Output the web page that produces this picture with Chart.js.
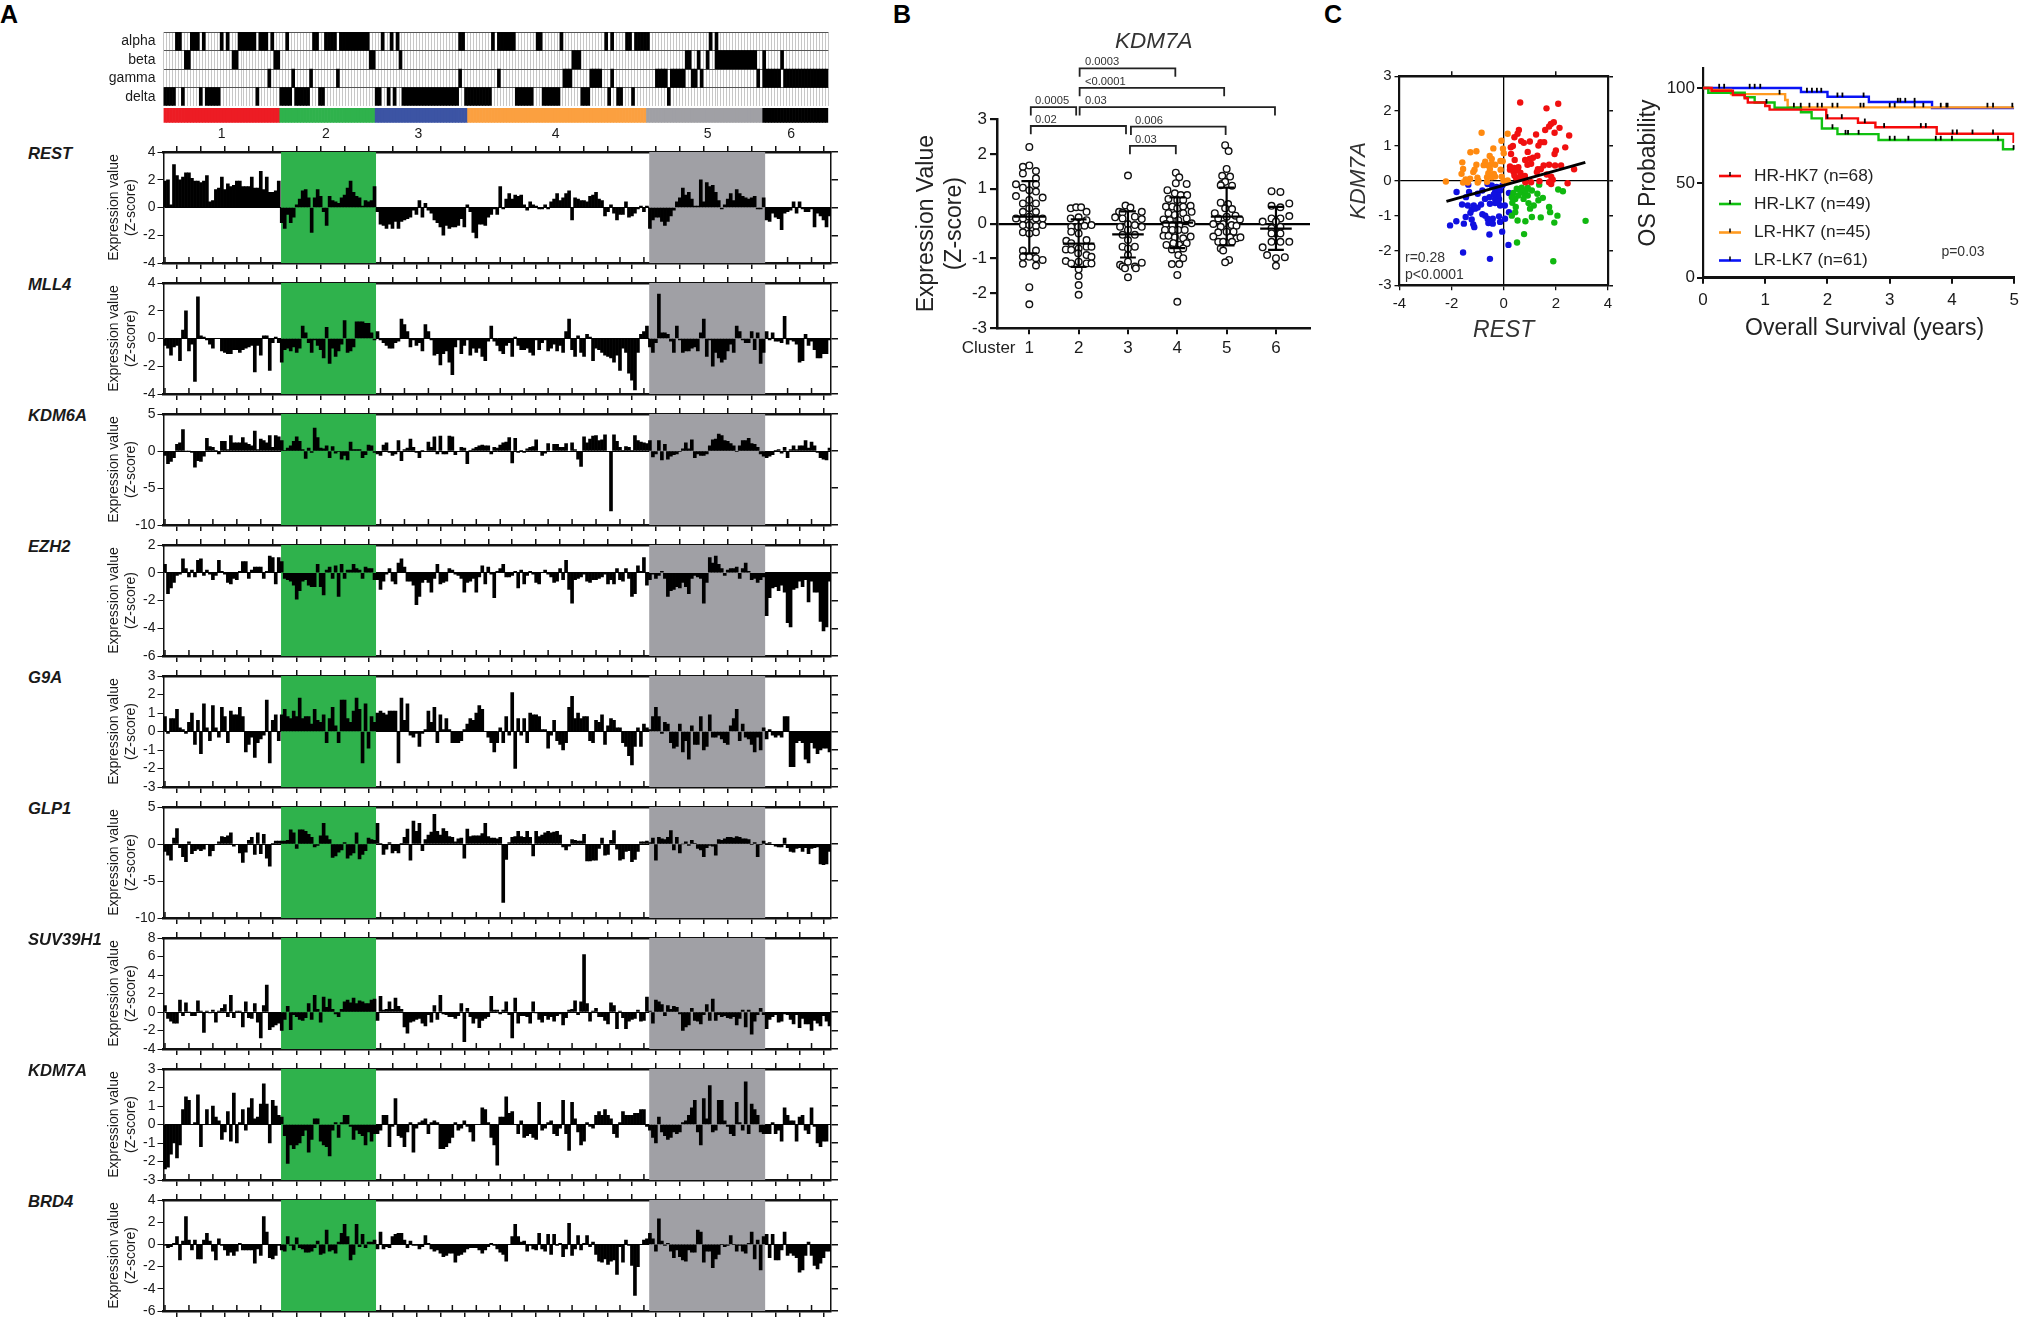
<!DOCTYPE html>
<html>
<head>
<meta charset="utf-8">
<title>Expression panels</title>
<style>
  html, body { margin: 0; background: #fff; }
  body { position: relative; width: 2020px; height: 1317px; overflow: hidden; font-family: "Liberation Sans", Arial, sans-serif; color: #1a1a1a; }
  canvas { position: absolute; }
  .note { position: absolute; white-space: nowrap; transform: translateY(-50%); line-height: 1; }
</style>
<script src="https://cdn.jsdelivr.net/npm/chart.js@4"></script>
</head>
<body>
<script>
// samples per cluster, in plotting order
const clusterNames = ['1', '2', '3', '4', '5', '6']
const clusterSizes = [39, 32, 31, 60, 39, 22]
const clusterColors = ['#ed1c24', '#2fb24c', '#3c54a4', '#fba040', '#a0a0a5', '#000000']
const clusterLabelAt = [19, 54, 85, 131, 182, 210]

// black runs in the top strip, [first sample, one past last sample]
const alphaRuns = [[4,6],[9,12],[13,14],[19,20],[21,22],[25,31],[32,35],[36,37],[41,42],[50,52],[54,58],[59,69],[73,74],[76,77],[78,79],[99,101],[110,111],[112,118],[125,127],[133,134],[148,149],[150,151],[155,157],[158,163],[183,184],[185,186]]
const betaRuns = [[7,9],[23,25],[37,39],[69,71],[79,80],[137,140],[175,177],[179,180],[182,183],[185,186],[186,199],[201,202],[207,208]]
const gammaRuns = [[35,36],[43,44],[49,50],[58,59],[99,100],[112,113],[134,137],[143,147],[150,151],[165,169],[170,175],[177,179],[180,181],[199,200],[201,207],[208,223]]
const deltaRuns = [[0,4],[6,7],[12,13],[14,19],[31,32],[39,41],[41,43],[44,49],[52,54],[71,73],[75,76],[77,78],[80,99],[101,110],[118,124],[127,133],[140,143],[149,150],[152,154],[157,158],[169,170]]

const REST = [
  1.9,2.0,0.2,3.1,2.3,2.0,2.2,2.5, 2.5,2.1,1.9,1.9,1.8,1.9,2.3,0.4, 0.5,1.3,1.4,2.2,1.3,1.7,1.5,1.6, 1.9,1.9,1.5,1.5,1.5,2.2,1.4,1.4,
  2.6,1.3,2.2,1.1,1.1,1.2,1.9,-1.1, -1.5,-0.5,-1.1,-0.7,0.2,0.6,1.2,1.3, 0.7,-1.8,0.7,1.3,0.8,-0.3,-1.3,0.8, 0.5,0.4,0.3,0.7,0.9,1.4,1.9,1.1,
  0.8,0.7,0.1,0.5,0.4,0.5,1.5,-0.3, -1.2,-1.3,-1.5,-1.2,-1.5,-1.0,-1.5,-1.0, -0.9,-0.8,-0.7,-0.2,-0.5,0.5,-0.7,0.3, -0.2,-0.4,-0.9,-1.1,-1.4,-2.0,-1.3,-1.5,
  -1.4,-1.4,-1.3,-0.8,-1.4,0.2,-0.3,-1.8, -2.2,-1.2,-1.2,-1.3,-0.7,-0.5,-0.1,-0.5, 1.5,-0.1,0.6,1.0,0.6,0.9,0.8,0.9, 0.2,-0.2,0.4,0.2,0.1,-0.1,-0.1,0.2,
  -0.1,0.4,0.6,1.0,0.5,0.7,1.0,1.2, -0.9,0.7,0.6,0.5,0.5,0.4,0.8,0.9, 1.1,0.6,0.5,-0.6,-0.3,0.2,-0.4,-0.9, -0.5,-0.5,0.4,-0.7,-0.6,-0.4,-0.1,0.1,
  -0.3,0.1,-1.5,-0.9,-0.7,-0.7,-1.0,-1.3, -1.0,-0.6,-0.2,0.4,0.7,1.4,0.9,1.1, 0.6,0.1,0.1,2.0,0.4,1.8,1.5,1.6, 1.1,0.5,-0.1,0.2,0.6,1.0,0.5,1.3,
  1.0,0.8,0.7,0.6,0.7,0.8,-0.1,-0.1, 0.7,-0.9,-1.0,-0.4,-0.7,-0.8,-1.6,-0.4, -0.3,-0.2,0.4,-0.4,0.4,-0.1,-0.3,-0.3, -0.1,-1.4,-0.4,-0.6,-0.9,-1.4,-0.6]
const MLL4 = [
  -0.5,-0.7,-1.2,-0.6,-0.5,-1.6,0.6,2.0, -0.9,-0.4,-3.1,3.0,0.2,0.1,-0.1,-0.4, -0.7,0,0,-0.9,-1.0,-1.1,-1.1,-0.8, -0.8,-1.0,-0.8,-0.7,-0.6,-0.5,-2.4,-0.5,
  -1.2,0.2,0.2,-2.3,-0.3,0.1,-0.3,-1.7, -0.8,-0.7,-0.9,-0.6,-1.0,-0.7,0.9,0.4, -0.3,-1.0,-0.1,-0.5,-0.8,-1.4,0.8,-1.8, -0.7,-1.3,-0.9,-0.4,1.3,-1.0,-0.9,-0.6,
  1.2,1.2,1.2,1.1,1.1,0.4,-0.1,0.5, -0.1,-0.3,-0.5,-0.7,-0.7,-0.3,-0.2,1.4, 1.0,0.5,-0.6,-0.1,-0.5,-0.3,-0.9,1.0, 0.5,-0.1,-1.2,-1.1,-1.9,-1.1,-0.9,-1.7,
  -2.6,-0.6,-0.1,-1.1,-0.5,-0.1,-1.2,-0.7, -1.0,-0.7,-1.3,-1.6,-0.2,0.9,-0.2,-0.5, -0.9,-1.1,-0.5,-0.3,-1.3,0.1,-0.5,-0.8, -0.8,-0.7,-1.0,-1.2,-0.1,-0.8,-0.3,-0.1,
  -0.9,-0.7,-0.4,-0.9,-0.5,-1.0,0.5,1.4, -0.8,-1.3,0.2,-1.0,-1.3,0.3,0.1,-1.6, -0.7,-0.8,-1.0,-1.2,-1.3,-1.4,-1.7,-1.2, -2.3,-0.7,-1.0,-2.5,-3.0,-3.7,-1.0,0.3,
  0.5,0.9,-0.6,-1.0,-0.3,3.2,0.4,0.4, 0.3,-0.2,-1.0,0.9,-0.1,-1.0,-0.9,-0.9, -0.7,-0.6,-0.9,0.4,1.4,-1.3,-0.1,-2.0, -1.0,-1.4,-1.7,-1.5,-0.9,-0.4,-1.0,0.9,
  0.5,-0.1,-0.3,-0.3,0.5,-0.8,0.4,-1.8, -1.0,0.5,-0.1,0.4,-0.2,-0.2,-0.3,1.6, -0.4,-0.1,-0.2,-0.4,-1.7,-1.6,0.3,-0.5, -0.2,-0.8,-1.4,-1.4,-1.1,-1.1,-0.1]
const KDM6A = [
  -0.6,-1.7,-1.4,-0.9,0.9,1.1,2.9,0, 0,-0.2,-2.2,-1.3,-1.4,-0.7,1.7,0.6, 0.5,0.1,-0.4,1.3,1.3,0.2,2.1,1.1, 1.1,1.1,1.8,1.1,0.9,0.7,2.7,0.2,
  1.6,1.4,1.1,2.1,0.5,2.1,1.9,1.4, 0.1,0.4,0.7,1.3,1.9,1.3,0.2,-1.0, 0.4,-0.2,3.1,1.8,0.4,0.3,0.7,-0.9, 0.6,-0.3,-0.1,-1.1,-0.6,-1.2,1.2,0.2,
  0.2,0.2,-0.9,-0.5,0.8,0.7,-0.2,-0.4, -0.6,0.8,1.1,-0.2,-0.6,-0.4,1.4,-1.3, 0.2,0.4,1.6,0.5,-0.2,-0.9,0.1,-0.1, 1.2,0.5,1.9,-0.4,2.0,-0.4,-0.4,2.0,
  1.9,-0.5,-0.1,0.5,0.4,-1.7,0.1,0.3, 0.5,0.7,0.8,0.7,0.7,-0.4,0.5,0.4, 0.8,1.1,1.2,1.8,-1.6,1.7,-0.2,0.1, -0.2,0.3,0.5,0.6,1.5,-0.1,-0.6,-0.3,
  1.0,-0.1,0.9,0.9,0.5,0.5,1.0,-0.1, 1.1,0.2,-1.1,-2.1,1.9,1.1,1.6,2.0, 2.1,1.4,1.5,2.2,-0.1,-8.1,2.2,1.3, 0.5,0.1,0.6,0.5,0.1,2.1,1.4,1.2,
  1.1,1.0,1.4,-0.8,-0.4,1.4,-1.2,0.9, -1.1,-0.7,-0.5,-0.4,-0.1,0.3,1.1,0.3, 1.5,-0.9,-0.4,-0.6,-0.6,-0.4,0.7,1.5, 1.6,2.3,2.1,1.4,1.3,1.0,0.7,-0.1,
  0.7,1.4,1.4,1.7,1.0,0.9,0.5,-0.4, -0.7,-0.9,-0.7,-0.5,0.1,0.2,-0.3,0.5, -0.9,0.2,0.7,0.2,0.7,0.7,1.4,0.4, 1.2,0.7,-0.2,-0.9,-1.1,-1.2,0.4]
const EZH2 = [
  0.6,-1.5,-1.1,-0.7,-0.2,-0.1,1.0,0.3, -0.3,0.2,-0.3,0.9,1.0,-0.2,0.2,-0.1, -0.5,-0.2,0.9,0.1,-0.1,-0.7,-0.8,-0.4, -0.5,0.1,0.8,0.8,-0.4,0.2,0.4,0.4,
  0.4,-0.4,0.1,1.2,1.1,-0.8,1.1,0.8, -0.4,-0.5,-0.6,-0.9,-1.9,-1.3,-0.6,-0.5, -0.9,-1.0,-1.0,0.6,-1.0,-1.6,0.2,0.4, -0.4,0.5,-1.7,0.6,-0.4,0.2,0.2,0.6,
  0.3,0.2,-0.4,0.4,0.3,0.3,-0.5,-0.5, -1.2,-0.6,-0.1,0.3,-0.6,-0.8,0.7,1.0, 0.4,-0.6,-0.6,-0.9,-2.3,-1.7,-0.7,-0.5, -0.7,-1.4,-0.4,0.6,-0.8,-0.7,-0.6,0.3,
  0.2,-0.1,-0.2,-0.4,-1.4,-0.7,-0.6,-0.4, -1.4,-0.3,0.5,-0.8,0.4,-0.1,-1.8,0.1, 0.3,0.6,-0.3,-0.3,-0.2,0.1,-1.1,0.2, -0.8,-0.2,0.1,-0.1,-0.7,-0.8,0,0.2,
  -0.1,-0.3,-0.7,-0.6,0.3,-0.5,0.9,-1.2, -2.2,-0.5,-0.4,-0.3,-0.1,-0.6,-0.7,-0.5, -0.5,-0.4,-0.3,-0.1,-0.8,-0.5,-0.8,0.3, -0.5,-0.6,0.3,-0.4,-1.7,-1.5,0.5,0.1,
  1.1,-0.9,-0.5,-0.1,-0.4,-0.2,0.1,-0.4, -1.7,-1.3,-1.2,-1.0,-1.1,-0.7,-1.0,-1.5, -0.4,-0.2,-0.3,-0.4,-2.2,-0.7,1.1,0.7, 1.2,0.6,0.3,-0.2,0.2,0.3,0.3,0.4,
  -0.4,0.3,0.7,0.1,-0.5,-0.4,-0.7,-0.5, -0.3,-3.1,-1.8,-1.1,-1.0,-1.3,-0.9,-1.4, -3.6,-3.9,-1.2,-1.1,-0.6,-1.0,-0.5,-2.1, -0.6,-1.4,-1.4,-3.5,-4.2,-3.9,-0.6]
const G9A = [
  0.8,-0.1,0.7,0.7,1.2,0.2,0.1,-0.1, 0.5,1.0,-0.7,0.6,-1.2,1.5,0.2,-0.5, 1.4,0.2,-0.3,1.3,0.8,-0.6,1.1,0.9, 0.9,1.3,0.8,-1.1,-0.7,-0.3,-1.4,-0.6,
  -0.4,-0.2,1.7,-1.7,0.6,0.9,-0.5,0.9, 1.2,0.8,0.7,1.1,0.8,1.8,0.7,0.8, 0.8,0.4,1.2,0.6,0.5,0.9,-0.6,0.7, 1.3,0.3,-0.6,1.7,1.7,0.7,0.5,1.1,
  1.8,1.2,-1.7,1.5,-0.9,0.8,0.5,1.0, 1.1,1.0,0.9,1.1,1.1,1.1,-1.7,1.8, 0.6,1.5,-0.2,-0.3,-0.1,-0.8,-0.1,0.1, 1.1,0.5,1.3,-0.6,0.9,0.1,0.7,0.1,
  -0.6,-0.6,-0.6,-0.5,0.1,0.4,0.7,0.6, 1.0,1.4,1.2,0,-0.3,-0.6,-1.1,-0.6, 0.2,-0.6,0.8,-0.2,2.1,-2.0,0.7,-0.2, 0.7,-0.6,1.0,0.9,0.9,0.8,0.1,0.1,
  -0.9,-0.2,0.6,-0.5,-0.7,-1.0,-0.6,1.3, 1.9,0.7,1.0,0.7,0.8,0.8,-0.5,-0.6, 0.6,0.5,0.9,-0.7,0.3,0.7,0.6,0.2, 0.2,-0.6,-0.8,-1.3,-1.8,-0.8,0.2,-0.8,
  0.4,0.2,0.1,0.8,1.3,0.8,-0.1,0.5, 0.4,-0.6,-0.9,-0.8,0.4,-1.1,-0.5,-1.5, 0.3,-0.7,-0.7,0.8,-1.0,-0.8,0.9,-0.3, -0.3,-0.2,-0.4,-0.6,-0.7,0.3,0.7,1.2,
  -0.5,0.4,-0.3,-0.4,-0.7,-1.1,-0.3,-1.0, 0.2,-0.4,0.1,-0.2,-0.3,-0.2,-0.3,0.8, 0.8,-1.9,-1.9,-0.6,-0.5,-0.6,-1.5,-1.7, -0.6,-0.9,-1.2,-1.0,-0.9,-0.9,-1.1]
const GLP1 = [
  -1.0,-1.5,-2.2,0.8,2.1,-0.5,-1.7,-2.4, 0.3,-1.3,-0.9,-0.7,-0.9,-0.7,-0.1,-1.6, -0.9,-0.1,0.3,1.0,0.9,1.1,1.5,-0.3, -0.1,-1.2,-2.5,-1.1,0.5,0.9,-1.4,1.5,
  -1.3,1.3,-1.9,-3.0,0.1,0.4,0.4,0.4, 0.4,0.5,1.9,1.5,-0.6,1.9,1.9,1.7, 1.3,0.9,-0.4,-0.2,1.1,2.8,1.1,0.6, -1.8,-1.6,-1.1,-0.8,0.2,-1.9,-1.5,-1.2,
  1.5,-2.0,-1.4,-0.9,0.8,0.6,0.5,2.8, 0.1,-1.4,-0.7,0.2,-1.2,-0.9,-1.2,0.1, 0.9,2.0,-2.2,3.1,1.7,2.8,-0.9,0.6, 1.2,1.6,4.0,1.7,1.2,2.1,1.7,1.0,
  0.9,0.3,0.7,0.8,-1.9,2.0,1.0,1.1, 1.1,1.1,1.4,2.8,1.0,0.8,0.8,0.7, 0.9,-7.9,-2.1,0.2,0.9,1.0,1.7,1.0, 0.9,1.7,0.9,-1.6,1.7,1.0,1.2,1.5,
  1.7,1.5,1.6,1.7,1.2,-0.4,-0.8,-0.3, 0.6,0.5,0.4,0.4,1.3,-2.3,-2.3,-2.2, -2.2,-0.6,0.8,-1.5,-1.4,0.5,1.8,-0.7, -2.2,-2.0,-1.0,-0.9,-2.4,-2.1,-1.0,0.3,
  0.3,0.4,0.2,0.8,-2.2,0.9,0.7,0.6, 0.9,1.8,-0.8,0.9,-1.2,0,0.3,-0.2, 0.5,0.1,-0.6,-0.8,-1.7,-0.5,-0.2,-0.3, -1.5,0.6,0.5,0.7,0.9,0.9,0.8,1.0,
  0.9,0.7,0.7,0.6,-0.1,0.2,-1.7,-0.1, 0.4,0.1,0.2,-0.1,-0.3,-0.4,-0.4,0.8, -0.5,-1.0,-1.1,-0.6,-0.5,-1.0,-0.5,-1.3, -0.6,-0.5,-0.4,-2.7,-2.8,-2.7,-1.0]
const SUV39H1 = [
  0.7,-0.7,-1.0,-1.2,-1.2,1.3,-0.4,1.0, 0,-0.4,-0.4,1.2,0.1,-2.2,0.1,-0.1, 0.2,-1.1,0.1,0.4,0.8,-0.5,1.8,-0.6, 0.1,0.1,-1.6,1.1,-0.6,-0.7,0.9,-1.1,
  -2.8,0.7,2.9,-1.9,-1.6,-1.4,-1.2,-2.0, -0.8,0.6,-1.9,-0.3,-0.5,-0.8,-0.9,-0.6, 0.9,-0.8,1.8,0.3,-1.1,1.6,0.5,1.4, 0.3,-0.2,-0.5,0.3,1.1,1.3,1.0,1.5,
  0.9,1.2,1.1,0.9,0.9,1.3,1.4,-0.9, 1.7,0.2,0.3,1.1,0.3,1.5,0.6,0.3, -1.6,-2.3,-1.1,-1.0,-0.8,-0.7,-1.2,-1.5, -0.3,-1.1,0.7,-0.8,1.8,-0.2,-0.3,-0.5,
  -0.5,-0.7,-0.4,0.9,-3.2,0.4,-0.5,-1.2, -0.7,-1.7,-0.9,-0.7,-0.5,1.7,0.2,0.2, -0.2,0.2,1.1,-0.3,-2.8,1.5,-1.2,-0.4, -0.4,-0.5,-1.2,1.1,-0.1,-0.8,-1.1,-0.4,
  -0.8,-0.5,-1.0,-0.4,-0.2,-1.4,-0.6,0.2, 0.3,1.2,-0.3,1.1,6.2,0.9,-1.0,0.1, 0.4,-0.5,-0.5,-0.9,-1.3,1.0,0.7,-1.8, 0.1,-0.6,-1.8,-1.0,-0.8,-0.7,0.2,-1.0,
  -0.9,1.6,0.1,-1.2,1.3,1.1,0.8,-0.4, 0.7,0.3,0.6,0.5,-0.2,-2.0,-1.6,-1.4, 0.4,-0.9,-1.0,-1.3,-0.3,0.8,-0.9,1.4, -0.9,-0.3,-0.5,-0.4,-0.6,-0.7,-0.5,-1.4,
  -0.7,0.2,-1.6,0.2,-2.4,-1.0,-0.3,0.4, -0.3,-1.8,-0.8,-0.5,-0.3,-1.1,-1.0,-0.2, -0.3,-0.8,-1.3,-0.3,-1.7,-0.7,-1.3,-1.3, -2.0,-0.9,-1.2,-1.5,-0.4,-1.0,-1.5]
const KDM7A = [
  -2.4,-2.3,-1.6,-1.0,-1.8,-1.1,0.8,1.5, 1.3,0,0.1,1.6,-1.2,0,0.8,0, 1.0,0.4,0.2,-0.8,-0.4,0.7,-0.9,1.7, -1.0,0.1,0.8,-0.3,0.9,1.4,0.3,0.4,
  1.1,2.2,1.1,-1.0,1.3,1.0,0.5,0.4, -0.6,-2.1,-1.1,-1.3,-1.1,-1.0,-0.6,-0.3, -1.5,-0.8,0.3,0.3,-0.9,-1.1,-1.2,-1.7, -0.3,0.1,-0.7,0.1,0.5,0.5,-0.1,-0.8,
  -0.3,-0.5,-0.6,-1.1,-0.4,-0.9,-0.5,-0.5, -0.3,0.5,0.5,-1.2,-0.1,1.4,-0.6,-0.7, -1.2,-0.4,0.1,-1.5,-0.2,0.1,0.2,0.3, -0.5,0.1,0.2,0.1,-1.3,-1.3,-1.2,-1.0,
  -0.7,0.1,-0.3,-0.2,0.2,-0.1,-0.4,-0.9, 0,0,0.9,0.8,0.1,-0.7,-1.1,-2.2, 0.4,0.4,1.5,0.6,0.7,0,-0.5,0.2, -0.7,-0.6,-0.5,-0.7,-0.8,1.2,-0.3,-0.2,
  0.1,0.2,-0.5,-0.6,-0.2,1.3,-0.5,-1.4, 1.2,0.3,-0.4,-1.1,-0.9,0.1,-0.1,-0.2, 0.5,0.7,0.5,0.8,0.5,0.3,-0.5,-0.7, 0.1,0.7,0.5,0.5,0.5,0.6,0.6,0.8,
  0.8,-0.1,-0.3,-0.7,-1.0,0.4,-0.4,-0.6, -0.8,-0.7,-0.4,-0.5,-0.4,0.1,0.2,0.5, 0.9,1.3,-0.4,-1.1,1.4,0.3,2.1,-0.4, -0.3,1.3,1.3,0.2,-0.1,-0.5,-0.6,1.2,
  0.1,-0.3,2.3,-0.5,1.1,0.8,0.5,-0.4, -0.5,-0.5,-0.5,0.1,-0.5,-0.3,-0.9,0.9, 0.5,0.2,0.2,-0.9,0.4,0.5,-0.3,-0.5, 0.9,-0.1,-1.0,-1.2,-0.9,-0.9,0]
const BRD4 = [
  -0.1,-0.3,-0.2,0.1,0.7,-1.4,0.3,2.5, 0.4,-0.5,0.4,-1.3,-1.3,0.4,1.0,0.3, -0.6,-1.4,0.5,-0.1,-0.5,-1.0,-0.7,-1.0, -0.6,0.1,-0.5,-0.5,-0.5,-0.5,-1.7,-0.4,
  -1.0,2.5,1.1,-1.2,-1.3,-1.0,-0.1,-0.5, -0.6,0.7,-0.1,-0.5,0.6,-0.3,-0.4,-0.7, -0.7,-0.6,-0.3,0.3,-0.9,-0.8,1.3,-0.6, -0.5,-0.8,0.2,1.0,1.8,0.7,-1.4,-0.9,
  1.8,-0.2,0.9,-0.3,0.2,0.2,0.4,-0.4, 1.1,-0.4,-0.2,-0.3,0.7,0.9,1.0,1.0, 0.4,-0.3,0.3,-0.1,-0.1,-0.4,-0.2,0.8, 0.1,-0.4,-0.6,-0.5,-0.8,-1.1,-1.0,-0.8,
  -0.8,-1.6,-1.0,-0.9,-0.7,-0.4,-0.3,-0.3, -0.3,-0.5,-0.8,-0.5,-0.2,0.1,-0.1,-0.4, -0.7,-0.9,-1.5,0,0.7,1.8,0.7,0.2, 0.3,-0.6,-0.1,-0.4,-0.5,1.0,-0.4,-0.6,
  0.9,-0.9,0.9,-0.1,0.1,-1.1,-0.4,1.9, -1.0,-0.4,0.8,-0.5,0.1,0.8,-0.2,0.2, -0.9,-1.5,-1.6,-1.3,-1.8,-1.5,-1.4,-2.7, -0.2,-1.6,0.4,-0.1,-1.9,-4.6,-2.0,0,
  0.4,0.5,1.0,0.5,-0.6,2.3,0.3,-0.1, 0.1,-0.6,-1.2,-0.5,-1.1,-1.4,-1.5,-0.5, -0.7,-0.7,1.3,1.1,-1.6,-0.6,-0.6,-2.1, -1.3,-0.9,0,-0.2,-0.1,0.8,0,-0.6,
  -0.1,-0.6,-0.8,0.1,1.1,-1.3,0.4,-2.3, 0.7,0.9,-1.2,0.9,-1.4,-1.4,-0.5,1.1, -1.0,-0.8,-1.0,-1.2,-2.5,-2.3,-1.0,0.2, -1.0,-1.9,-2.2,-1.7,-1.2,-0.6,-0.6]

const geneNames = ['REST', 'MLL4', 'KDM6A', 'EZH2', 'G9A', 'GLP1', 'SUV39H1', 'KDM7A', 'BRD4']
const geneValues = [REST, MLL4, KDM6A, EZH2, G9A, GLP1, SUV39H1, KDM7A, BRD4]
const geneMin = [-4, -4, -10, -6, -3, -10, -4, -3, -6]
const geneMax = [4, 4, 5, 2, 3, 5, 8, 3, 4]
const geneStep = [2, 2, 5, 2, 1, 5, 2, 1, 2]

// panel B, [x, y] per patient
const swarm1 = [[1,2.2],[1,1.67],[.87,1.63],[1.135,1.51],[.87,1.44],[1.135,1.3],[.73,1.13],[1.135,1.13],[.87,1.03],[1,.96],[1.135,.92],[.73,.79],[1.27,.75],[.87,.58],[1.135,.58],[1,.68],[.87,.34],[1.135,.34],[1,.44],[.87,.15],[1.27,.15],[.73,.15],[1,.2],[1.135,.15],[.87,-.04],[1.135,-.07],[1,-.04],[1.27,-.04],[.87,-.25],[1.135,-.25],[1,-.28],[.87,-.77],[1.135,-.77],[1,-.95],[.87,-.95],[1.135,-.99],[.87,-1.15],[1.135,-1.2],[1.27,-1.04],[1,-1.82],[1,-2.31]]
const swarm2 = [[1.84,.44],[1.95,.47],[2.05,.47],[2.16,.34],[1.84,.15],[2,.18],[2.16,.1],[1.85,-.09],[1.99,-.09],[2.12,-.06],[2.26,-.04],[1.85,-.23],[2,-.28],[2.16,-.47],[1.75,-.49],[1.85,-.56],[2.16,-.66],[2.26,-.66],[2,-.71],[1.74,-.74],[1.85,-.75],[1.99,-.85],[2.16,-.9],[2.26,-.95],[1.74,-1.07],[1.85,-1.14],[2,-1.09],[2.16,-1.14],[2.26,-1.14],[2,-1.31],[2,-1.5],[2,-1.76],[2,-2.04]]
const swarm3 = [[3,1.38],[2.95,.52],[3.05,.46],[2.82,.34],[3.28,.34],[2.89,.32],[2.74,.18],[2.89,.15],[3.14,.2],[3.28,.13],[3,-.01],[2.84,-.09],[3.14,-.04],[3.28,-.09],[3,-.18],[2.89,-.32],[3.14,-.32],[3,-.47],[2.89,-.66],[3.14,-.66],[3,-.71],[3,-.9],[2.84,-1.18],[3.28,-1.12],[3,-1.09],[3.14,-1.23],[2.89,-1.23],[2.94,-1.28],[3.16,-1.28],[3,-1.54]]
const swarm4 = [[3.97,1.46],[4.04,1.33],[3.97,1.16],[4.19,1.14],[3.8,.96],[3.95,.87],[4.07,.82],[4.2,.82],[3.82,.71],[4,.68],[4.12,.68],[3.77,.49],[3.9,.49],[4,.44],[4.12,.49],[4.27,.51],[3.82,.3],[3.95,.25],[4.12,.3],[4.29,.34],[3.72,.12],[3.85,.1],[4.02,.1],[4.19,.15],[3.77,-.01],[3.9,-.04],[4.04,-.04],[4.29,.01],[3.75,-.18],[3.9,-.18],[4.02,-.18],[4.15,-.18],[3.72,-.35],[3.82,-.35],[3.95,-.39],[4.12,-.42],[4.27,-.37],[3.78,-.61],[3.92,-.56],[4.04,-.61],[4.19,-.56],[3.89,-.74],[4,-.75],[4.12,-.71],[4.02,-.9],[4.12,-.99],[3.89,-1.16],[4.04,-1.16],[4,-1.47],[4,-2.24]]
const swarm5 = [[4.97,2.25],[5.04,2.08],[5,1.57],[4.91,1.37],[5.07,1.35],[4.9,1.14],[4.97,1.2],[5.11,1.09],[4.88,1.1],[4.88,.6],[5.03,.56],[4.97,.44],[5.11,.42],[4.76,.3],[5.18,.23],[4.83,.15],[5,.2],[5.27,.12],[4.73,-.01],[4.93,-.01],[5.1,-.04],[4.88,-.09],[5.2,-.06],[5,-.23],[5.14,-.23],[4.83,-.25],[5.2,-.42],[5.28,-.39],[4.73,-.37],[5.07,-.39],[4.83,-.52],[4.93,-.52],[5.11,-.52],[4.88,-.71],[4.93,-.77],[5.05,-1.04],[4.97,-1.11]]
const swarm6 = [[5.91,.93],[6.09,.91],[6.27,.58],[5.91,.51],[6.09,.47],[6.27,.22],[5.91,.15],[6.09,.15],[5.73,.06],[6,.06],[5.91,-.13],[6.09,-.09],[6,-.28],[5.91,-.28],[6.09,-.28],[5.73,-.68],[5.91,-.52],[6.27,-.52],[6.09,-.52],[5.82,-.9],[6,-.99],[6.18,-.96],[6,-1.21]]
const swarmMean = [.2, -.57, -.31, .03, .2, -.14]
const swarmHigh = [1.22, .12, .35, .75, 1.03, .48]
const swarmLow = [-.85, -1.24, -.97, -.7, -.62, -.75]

// comparison brackets above the swarm
const bracketFrom = [2.02, 2.02, 2.02, 1.03, 1.03, 3.06, 3.04]
const bracketTo = [3.96, 4.95, 5.98, 1.95, 2.96, 4.98, 3.97]
const bracketLevel = [4.45, 3.89, 3.34, 3.34, 2.8, 2.78, 2.23]
const bracketText = ['0.0003', '<0.0001', '0.03', '0.0005', '0.02', '0.006', '0.03']

// panel C, REST vs KDM7A
const redPts = [[.63,2.25],[1.64,2.08],[2.09,2.21],[1.92,1.68],[1.81,1.63],[1.74,1.56],[1.59,1.46],[1.95,1.38],[2.14,1.52],[2.51,1.3],[.58,1.46],[.53,1.35],[1.24,1.33],[.41,1.25],[.67,1.14],[.77,1.09],[1,1.13],[1.41,1.11],[1.55,1.11],[1.33,1.01],[2.36,.96],[.35,1],[.27,.96],[.92,.83],[.28,.77],[2,.87],[1.95,.77],[1.29,.72],[1.12,.66],[.99,.63],[.82,.6],[.42,.6],[.91,.46],[1.05,.49],[1.53,.44],[1.74,.46],[1.97,.44],[2.2,.44],[2.7,.33],[.24,.41],[.4,.37],[.56,.39],[.24,.32],[.38,.25],[.54,.3],[.64,.23],[.81,.14],[1.31,.33],[1.42,.33],[1.27,.25],[1.65,.18],[1.82,.12],[1.88,.03],[1.74,-.04],[1.37,-.01],[.83,-.04],[1.05,-.04],[2.45,-.07],[1.82,-.09],[.47,.09],[.63,.1],[.41,.15]]
const orangePts = [[-.85,1.38],[.15,1.35],[-.09,1.15],[-.03,.92],[-.4,.93],[-1.05,.85],[-1.28,.82],[0,.79],[-.54,.71],[-.46,.63],[-.13,.57],[-.04,.56],[-1.59,.53],[-.71,.55],[-1.05,.46],[-.77,.45],[-.59,.44],[-.46,.49],[-.33,.46],[-1.56,.34],[-1.12,.32],[-.12,.32],[-.53,.34],[-1.62,.2],[-1.17,.25],[-.08,.12],[-1.01,.09],[-1.29,.06],[-1.46,.04],[-1.56,-.05],[-2.22,-.02],[-.97,0],[-.64,.1],[-.46,.1],[-.33,.12],[-.64,-.03],[-.01,0],[.15,.01],[-1,-.05],[-1.38,-.05],[-.59,.22],[-.38,.2]]
const bluePts = [[-1.36,-.11],[-1.81,-.32],[-1.33,-.32],[-1.45,-.47],[-1,-.37],[-.82,-.28],[-.62,-.09],[-.46,-.13],[-.05,-.13],[-.27,-.18],[-.33,-.32],[-.14,-.28],[-.21,-.42],[-.55,-.47],[-.72,-.52],[.2,-.35],[-.33,-.52],[-.18,-.52],[-.53,-.66],[-.33,-.64],[-.14,-.71],[.04,-.71],[-1.6,-.68],[-1.38,-.71],[-1.15,-.71],[-.87,-.68],[-1,-.77],[-1.23,-.83],[-1.1,-.8],[-1.28,-.92],[-.82,-.96],[-.71,-1],[-1.46,-1.04],[-1.23,-1.11],[-1.82,-1.16],[-2.06,-1.28],[-1.53,-1.23],[-1.17,-1.25],[-1.13,-1.33],[-.62,-1.09],[-.42,-1.09],[-.18,-1.02],[.05,-1.09],[-.14,-1.18],[-.59,-1.21],[-.42,-1.23],[-.55,-1.54],[-.06,-1.46],[.18,-1.84],[-1.56,-2.06],[-.53,-2.24],[.2,-.9],[-.21,-.61],[-.38,-.39]]
const greenPts = [[1.36,-.11],[2.09,-.25],[2.27,-.3],[.5,-.23],[.69,-.2],[.92,-.2],[1.08,-.28],[.37,-.35],[.56,-.42],[.76,-.35],[.92,-.42],[1.29,-.37],[1.5,-.49],[1.33,-.56],[.44,-.52],[.76,-.52],[.33,-.63],[.46,-.75],[.95,-.64],[1.15,-.71],[1.01,-.8],[1.74,-.75],[1.78,-.9],[.31,-1],[.44,-.9],[1.08,-1.04],[1.42,-1.05],[2.06,-1],[.53,-1.14],[.83,-1.16],[1.94,-1.2],[3.14,-1.15],[.78,-1.53],[.51,-1.77],[1.9,-2.31],[.63,-.28],[.31,-.47],[.85,-.28]]
const fitLine = [[-2.2,-.59],[3.13,.53]]

// overall survival, [years, percent] at each event
const hrHk7 = [[0,100],[.14,98.6],[.48,96.3],[.67,94.6],[.72,92.4],[1,90.5],[1.07,88.6],[1.98,84],[2.49,81.7],[2.77,79.3],[3.755,75.9],[4.99,71.7],[5,71.7]]
const hrLk7 = [[0,100],[.085,97.5],[.67,95.1],[.83,92.4],[1.15,89.6],[1.574,87.2],[1.745,84],[1.91,78.7],[2.16,75.7],[2.82,72.6],[4.82,67.7],[5,67.7]]
const lrHk7 = [[0,100],[.12,99],[.45,96.8],[1.32,93.7],[1.36,89.8],[5,89.8]]
const lrLk7 = [[0,100],[1.574,97.9],[2,95.4],[2.665,92.6],[3.68,89.5],[5,89.5]]
const kmNames = ['HR-HK7 (n=68)', 'HR-LK7 (n=49)', 'LR-HK7 (n=45)', 'LR-LK7 (n=61)']
// censored patients, [years, percent at the tick]
const kmCensored = [[.26,101],[.34,101],[.75,101],[.83,101],[.92,101],[1.67,98.9],[1.75,98.9],[1.83,98.9],[1.9,98.9],[2.16,96.4],[2.24,96.4],[2.58,96.4],[3.13,93.6],[3.17,93.6],[3.25,93.6],[3.4,93.6],[1.23,97.8],[1.02,93],[1.46,91],[1.57,91],[1.71,91],[1.84,91],[1.91,91],[2.08,91],[2.16,91],[2.53,91],[2.58,91],[3,91],[3.08,91],[3.4,91],[3.54,91],[3.82,91],[3.91,91],[3.93,91],[4.57,91],[4.66,91],[4.97,91],[2,85],[2.23,85],[2.6,82.7],[2.91,80.3],[3.5,80.3],[3.58,80.3],[4.01,76.9],[4.08,76.9],[4.33,76.9],[4.66,76.9],[2.08,79.7],[2.29,76.7],[2.33,76.7],[2.5,76.7],[3,73.6],[3.08,73.6],[3.3,73.6],[3.74,73.6],[3.82,73.6],[4,73.6],[4.74,73.6],[4.99,68.7]]

const sampleCount = clusterSizes.reduce((a, b) => a + b, 0)
const sampleLabels = Array.from({ length: sampleCount }, (_, i) => String(i))
const INK = '#111'
const FONT = '"Liberation Sans", Arial, sans-serif'

Chart.defaults.font.family = FONT
Chart.defaults.color = '#1a1a1a'
Chart.defaults.animation = false
Chart.defaults.responsive = false
Chart.defaults.devicePixelRatio = 1
Chart.defaults.plugins.legend.display = false
Chart.defaults.plugins.tooltip.enabled = false

function place(x, y, w, h) {
  const c = document.createElement('canvas')
  c.width = w
  c.height = h
  c.style.left = x + 'px'
  c.style.top = y + 'px'
  document.body.appendChild(c)
  return c
}

function note(text, x, y, opts = {}) {
  const d = document.createElement('div')
  d.className = 'note'
  d.textContent = text
  d.style.left = x + 'px'
  d.style.top = y + 'px'
  d.style.fontSize = (opts.size || 14) + 'px'
  if (opts.bold) d.style.fontWeight = 'bold'
  if (opts.italic) d.style.fontStyle = 'italic'
  if (opts.color) d.style.color = opts.color
  if (opts.center) d.style.transform = 'translate(-50%,-50%)'
  document.body.appendChild(d)
}

function clusterOf(i) {
  let end = 0
  for (let c = 0; c < clusterSizes.length; c++) {
    end += clusterSizes[c]
    if (i < end) return c
  }
  return clusterSizes.length - 1
}

// fixes an axis to a set thickness so the plot rectangle lands where it should
const fixed = (key, size) => (s) => {
  s[key] = size
  s.paddingTop = s.paddingBottom = s.paddingLeft = s.paddingRight = 0
}

// inner ticks on the bottom axis, then the cluster 2 and 5 bands, under the bars
const bandPlugin = {
  id: 'bands',
  beforeDatasetsDraw(chart) {
    const { ctx, chartArea, scales } = chart
    ctx.save()
    ctx.strokeStyle = INK
    ctx.lineWidth = 1.5
    scales.x.ticks.forEach((t) => {
      const px = scales.x.getPixelForValue(t.value)
      ctx.beginPath()
      ctx.moveTo(px, chartArea.bottom)
      ctx.lineTo(px, chartArea.bottom - 6)
      ctx.stroke()
    })
    const half = (scales.x.getPixelForValue(1) - scales.x.getPixelForValue(0)) / 2
    ;[1, 4].forEach((c) => {
      const first = clusterSizes.slice(0, c).reduce((a, b) => a + b, 0)
      const last = first + clusterSizes[c] - 1
      const x0 = scales.x.getPixelForValue(first) - half + 0.8
      const x1 = scales.x.getPixelForValue(last) + half
      ctx.fillStyle = clusterColors[c]
      ctx.fillRect(x0, chartArea.top, x1 - x0, chartArea.height)
    })
    ctx.restore()
  },
}

// ---- panel A: strip of subgroups
const runsToCells = (runs, row) => {
  const cells = new Array(sampleCount).fill(null)
  runs.forEach(([a, b]) => {
    for (let i = a; i < b; i++) cells[i] = [row, row + 1]
  })
  return cells
}
const rowNames = ['delta', 'gamma', 'beta', 'alpha']

new Chart(place(100, 26, 760, 80.5), {
  type: 'bar',
  data: {
    labels: sampleLabels,
    datasets: [alphaRuns, betaRuns, gammaRuns, deltaRuns].map((runs, n) => ({
      data: runsToCells(runs, 3 - n),
      backgroundColor: '#000',
      barPercentage: 1,
      categoryPercentage: 1,
      grouped: false,
    })),
  },
  options: {
    layout: { padding: { top: 6, right: 31.7, bottom: 0 } },
    scales: {
      x: {
        offset: true,
        afterFit: fixed('height', 0),
        ticks: { display: false, autoSkip: false },
        grid: { color: '#b9b9b9', lineWidth: 0.8, drawTicks: false },
        border: { display: false },
      },
      y: {
        min: 0,
        max: 4,
        afterBuildTicks: (s) => {
          s.ticks = [0, 0.5, 1, 1.5, 2, 2.5, 3, 3.5, 4].map((value) => ({ value }))
        },
        afterFit: fixed('width', 63.5),
        ticks: {
          autoSkip: false,
          font: { size: 14 },
          padding: 4,
          callback: (v) => (v % 1 ? rowNames[Math.floor(v)] : ''),
        },
        grid: {
          tickLength: 4,
          tickColor: 'transparent',
          lineWidth: 1,
          color: (c) => (c.tick.value % 1 ? 'transparent' : '#555'),
        },
        border: { display: false },
      },
    },
  },
})

// ---- panel A: cluster colour bar
new Chart(place(100, 104, 760, 42), {
  type: 'bar',
  data: {
    labels: sampleLabels.map((_, i) => {
      const n = clusterLabelAt.indexOf(i)
      return n < 0 ? '' : clusterNames[n]
    }),
    datasets: [{
      data: sampleLabels.map(() => 1),
      backgroundColor: sampleLabels.map((_, i) => clusterColors[clusterOf(i)]),
      barPercentage: 1,
      categoryPercentage: 1,
    }],
  },
  options: {
    layout: { padding: { top: 4, right: 31.7 } },
    scales: {
      x: {
        offset: true,
        afterFit: fixed('height', 23.3),
        ticks: { autoSkip: false, maxRotation: 0, minRotation: 0, font: { size: 14 }, padding: 3 },
        grid: { display: false, drawTicks: false, tickLength: 0 },
        border: { display: false },
      },
      y: {
        min: 0,
        max: 1,
        afterFit: fixed('width', 63.5),
        ticks: { display: false },
        grid: { display: false },
        border: { display: false },
      },
    },
  },
})

// ---- panel A: one bar chart per gene
const everyEighth = (s) => { s.ticks = s.ticks.filter((t) => t.value % 8 === 0) }
const sampleAxis = (position) => ({
  type: 'category',
  labels: sampleLabels,
  position,
  offset: true,
  afterBuildTicks: everyEighth,
  afterFit: fixed('height', 20),
  ticks: { display: false, autoSkip: false },
  grid: { drawOnChartArea: false, tickLength: 6, tickColor: INK, lineWidth: 1.5 },
  border: { color: INK, width: 2.6 },
})

geneNames.forEach((gene, g) => {
  const top = 151.7 + 131 * g
  note(gene, 28, top + 2, { size: 16.6, bold: true, italic: true })
  new Chart(place(100, top - 20, 760, 151), {
    type: 'bar',
    data: {
      labels: sampleLabels,
      datasets: [{
        data: geneValues[g],
        backgroundColor: '#000',
        barPercentage: 1,
        categoryPercentage: 1,
      }],
    },
    options: {
      scales: {
        x: sampleAxis('bottom'),
        xTop: sampleAxis('top'),
        y: {
          min: geneMin[g],
          max: geneMax[g],
          afterFit: fixed('width', 63.5),
          ticks: { stepSize: geneStep[g], font: { size: 14 }, padding: 2, autoSkip: false },
          title: {
            display: true,
            text: ['Expression value', '(Z-score)'],
            font: { size: 14, lineHeight: 1.25 },
            padding: { top: 5, bottom: 0 },
          },
          grid: {
            tickLength: 6,
            tickColor: INK,
            lineWidth: 1,
            color: (c) => (c.tick.value === 0 ? '#000' : 'transparent'),
          },
          border: { color: INK, width: 1.5 },
        },
        yRight: {
          position: 'right',
          min: geneMin[g],
          max: geneMax[g],
          afterFit: fixed('width', 29),
          ticks: { display: false, stepSize: geneStep[g], autoSkip: false },
          grid: { drawOnChartArea: false, tickLength: 7, tickColor: INK, lineWidth: 1.5 },
          border: { color: INK, width: 1.5 },
        },
      },
    },
    plugins: [bandPlugin],
  })
})

// ---- panel B
const gap = { x: NaN, y: NaN }
const bracketPath = []
bracketFrom.forEach((from, i) => {
  const lvl = bracketLevel[i]
  bracketPath.push({ x: from, y: lvl - 0.24 }, { x: from, y: lvl }, { x: bracketTo[i], y: lvl }, { x: bracketTo[i], y: lvl - 0.24 }, gap)
})
const summaryPath = []
swarmMean.forEach((m, i) => {
  const c = i + 1
  summaryPath.push({ x: c - 0.32, y: m }, { x: c + 0.32, y: m }, gap)
  summaryPath.push({ x: c, y: swarmHigh[i] }, { x: c, y: swarmLow[i] }, gap)
  summaryPath.push({ x: c - 0.16, y: swarmHigh[i] }, { x: c + 0.16, y: swarmHigh[i] }, gap)
  summaryPath.push({ x: c - 0.16, y: swarmLow[i] }, { x: c + 0.16, y: swarmLow[i] }, gap)
})
const toXY = (pts) => pts.map(([x, y]) => ({ x, y }))

new Chart(place(905, 50, 415, 320), {
  type: 'scatter',
  data: {
    datasets: [
      { data: bracketPath, showLine: true, borderColor: '#222', borderWidth: 1.8, pointRadius: 0, clip: false },
      { data: summaryPath, showLine: true, borderColor: '#000', borderWidth: 2.2, pointRadius: 0 },
      ...[swarm1, swarm2, swarm3, swarm4, swarm5, swarm6].map((pts) => ({
        data: toXY(pts),
        pointRadius: 3.3,
        pointBorderWidth: 1.4,
        pointBorderColor: '#111',
        pointBackgroundColor: '#fff',
      })),
    ],
  },
  options: {
    layout: { padding: { top: 69, right: 10 } },
    scales: {
      x: {
        type: 'linear',
        min: 0.345,
        max: 6.69,
        afterBuildTicks: (s) => { s.ticks = clusterNames.map((n) => ({ value: Number(n) })) },
        afterFit: fixed('height', 41.7),
        ticks: { font: { size: 17 }, padding: 4, maxRotation: 0, callback: (v) => String(v) },
        grid: { drawOnChartArea: false, tickLength: 6, tickColor: INK, lineWidth: 2 },
        border: { color: INK, width: 2.5 },
      },
      y: {
        min: -3,
        max: 3,
        afterFit: fixed('width', 92),
        ticks: { stepSize: 1, font: { size: 17 }, padding: 3 },
        title: {
          display: true,
          text: ['Expression Value', '(Z-score)'],
          font: { size: 23, lineHeight: 1.22 },
          color: '#222',
          padding: { top: 8, bottom: 0 },
        },
        grid: {
          tickLength: 7,
          tickColor: INK,
          lineWidth: 2.2,
          color: (c) => (c.tick.value === 0 ? '#000' : 'transparent'),
        },
        border: { color: INK, width: 2.5 },
      },
    },
  },
})

const bracketNoteX = [1085, 1085, 1085, 1035, 1035, 1135, 1135]
bracketText.forEach((t, i) => {
  note(t, bracketNoteX[i], 223.65 - bracketLevel[i] * 34.88 - 6, { size: 11.2, color: '#333' })
})
note('KDM7A', 1153.7, 40.7, { size: 22.5, italic: true, center: true, color: '#333' })
note('Cluster', 961.7, 346.7, { size: 17, color: '#222' })

// ---- panel C: correlation
const pointSet = (pts, color) => ({ data: toXY(pts), pointRadius: 3.2, pointBorderWidth: 0, pointBackgroundColor: color })

new Chart(place(1335, 55, 290, 290), {
  type: 'scatter',
  data: {
    datasets: [
      { data: toXY(fitLine), showLine: true, borderColor: '#000', borderWidth: 3, pointRadius: 0 },
      pointSet(redPts, '#f01010'),
      pointSet(orangePts, '#ff8a10'),
      pointSet(greenPts, '#10b810'),
      pointSet(bluePts, '#1010e0'),
    ],
  },
  options: {
    scales: {
      x: {
        type: 'linear',
        min: -4,
        max: 4,
        afterFit: fixed('height', 59.7),
        ticks: { stepSize: 2, font: { size: 15 }, padding: 5 },
        title: {
          display: true,
          text: 'REST',
          font: { size: 23, style: 'italic' },
          color: '#333',
          padding: { top: 0, bottom: 1 },
        },
        grid: {
          tickLength: 5,
          tickColor: INK,
          lineWidth: 1.3,
          color: (c) => (c.tick.value === 0 ? '#000' : 'transparent'),
        },
        border: { color: INK, width: 2.6 },
      },
      xTop: {
        type: 'linear',
        position: 'top',
        min: -4,
        max: 4,
        afterBuildTicks: (s) => { s.ticks = [{ value: -2 }, { value: 2 }] },
        afterFit: fixed('height', 21.3),
        ticks: { display: false },
        grid: { drawOnChartArea: false, tickLength: 5, tickColor: INK, lineWidth: 1.5 },
        border: { color: INK, width: 2.6 },
      },
      y: {
        min: -3,
        max: 3,
        afterFit: fixed('width', 64.5),
        ticks: { stepSize: 1, font: { size: 15 }, padding: 3 },
        title: {
          display: true,
          text: 'KDM7A',
          font: { size: 22.5, style: 'italic' },
          color: '#333',
          padding: { top: 10, bottom: 0 },
        },
        grid: {
          tickLength: 5,
          tickColor: INK,
          lineWidth: 1.3,
          color: (c) => (c.tick.value === 0 ? '#000' : 'transparent'),
        },
        border: { color: INK, width: 2.2 },
      },
      yRight: {
        position: 'right',
        min: -3,
        max: 3,
        afterFit: fixed('width', 17),
        ticks: { display: false, stepSize: 1 },
        grid: { drawOnChartArea: false, tickLength: 5, tickColor: INK, lineWidth: 1.5 },
        border: { color: INK, width: 2.2 },
      },
    },
  },
})
note('r=0.28', 1405, 257, { size: 14, color: '#333' })
note('p<0.0001', 1405, 274, { size: 14, color: '#333' })

// ---- panel C: survival
const kmLine = (pts, color) => ({
  data: toXY(pts),
  showLine: true,
  stepped: true,
  borderColor: color,
  borderWidth: 2.4,
  pointRadius: 0,
})
const kmColors = ['#f50a0a', '#10c010', '#ff9a20', '#0a14f5']

const kmLegend = {
  id: 'kmLegend',
  afterDraw(chart) {
    const { ctx } = chart
    const rowY = [116, 144, 172.5, 200.5]
    ctx.save()
    ctx.font = '17.3px ' + FONT
    ctx.textBaseline = 'middle'
    kmNames.forEach((name, i) => {
      ctx.strokeStyle = kmColors[i]
      ctx.lineWidth = 2.6
      ctx.beginPath()
      ctx.moveTo(89, rowY[i])
      ctx.lineTo(111, rowY[i])
      ctx.stroke()
      ctx.strokeStyle = '#000'
      ctx.lineWidth = 1.5
      ctx.beginPath()
      ctx.moveTo(100, rowY[i] - 4)
      ctx.lineTo(100, rowY[i])
      ctx.stroke()
      ctx.fillStyle = '#222'
      ctx.fillText(name, 124, rowY[i])
    })
    ctx.restore()
  },
}

new Chart(place(1630, 60, 390, 285), {
  type: 'scatter',
  data: {
    datasets: [
      {
        data: toXY(kmCensored),
        pointStyle: 'line',
        rotation: 90,
        pointRadius: 2.3,
        pointBorderWidth: 1.8,
        pointBorderColor: '#000',
        clip: false,
      },
      kmLine(hrHk7, kmColors[0]),
      kmLine(hrLk7, kmColors[1]),
      kmLine(lrHk7, kmColors[2]),
      kmLine(lrLk7, kmColors[3]),
    ],
  },
  options: {
    layout: { padding: { top: 8.3, right: 3.6 } },
    scales: {
      x: {
        type: 'linear',
        min: 0,
        max: 5,
        afterFit: fixed('height', 67.3),
        ticks: { stepSize: 1, font: { size: 17 }, padding: 6 },
        grid: { drawOnChartArea: false, tickLength: 6, tickColor: INK, lineWidth: 2 },
        border: { color: INK, width: 3 },
      },
      y: {
        min: 0,
        max: 110.4,
        afterBuildTicks: (s) => { s.ticks = [{ value: 0 }, { value: 50 }, { value: 100 }] },
        afterFit: fixed('width', 73),
        ticks: { font: { size: 17 }, padding: 2 },
        title: {
          display: true,
          text: 'OS Probability',
          font: { size: 23 },
          color: '#222',
          padding: { top: 5, bottom: 0 },
        },
        grid: { drawOnChartArea: false, tickLength: 6, tickColor: INK, lineWidth: 2 },
        border: { color: INK, width: 2.2 },
      },
    },
  },
  plugins: [kmLegend],
})
note('Overall Survival (years)', 1864.6, 327, { size: 23, center: true, color: '#222' })
note('p=0.03', 1941.4, 250.7, { size: 14, color: '#333' })

// panel letters
note('A', 0, 14, { size: 25, bold: true, color: '#000' })
note('B', 893, 14, { size: 25, bold: true, color: '#000' })
note('C', 1324, 14, { size: 25, bold: true, color: '#000' })
</script>
</body>
</html>
